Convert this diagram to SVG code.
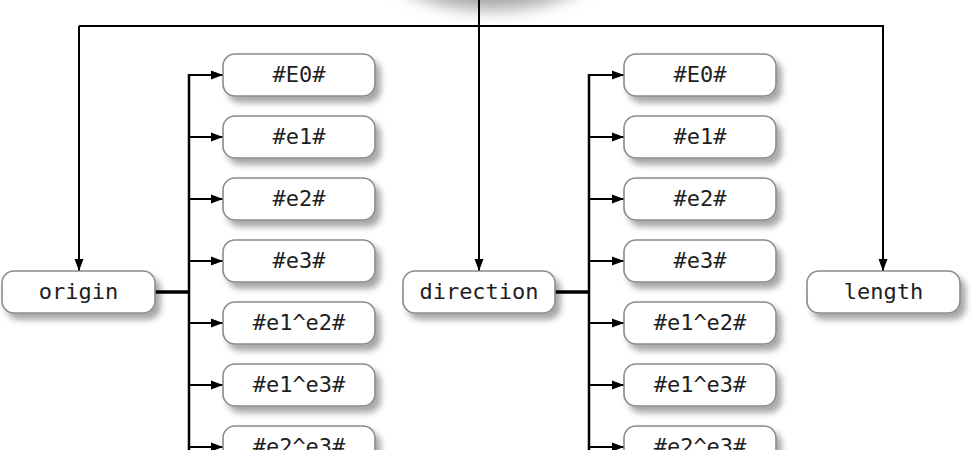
<svg xmlns="http://www.w3.org/2000/svg" width="980" height="450" viewBox="0 0 980 450">
<style>
.box rect{fill:#fff;stroke:#8a8a8a;stroke-width:1.6;filter:url(#sh)}
.box text{font-family:"DejaVu Sans Mono","Liberation Mono",monospace;font-size:22px;fill:#1e1e1e;text-anchor:middle}
.ln{fill:none;stroke:#000;stroke-width:2}
.arr{marker-end:url(#ah)}
.thick{fill:none;stroke:#000;stroke-width:3.5}
</style>
<defs>
<filter id="sh" x="-20%" y="-40%" width="150%" height="200%">
<feGaussianBlur in="SourceAlpha" stdDeviation="3"/>
<feOffset dx="5" dy="6" result="b"/>
<feFlood flood-color="#000" flood-opacity="0.35"/>
<feComposite in2="b" operator="in"/>
<feMerge><feMergeNode/><feMergeNode in="SourceGraphic"/></feMerge>
</filter>
<filter id="blur" x="-50%" y="-50%" width="200%" height="200%">
<feGaussianBlur stdDeviation="8"/>
</filter>
<marker id="ah" markerUnits="userSpaceOnUse" markerWidth="12" markerHeight="10" refX="12" refY="5" orient="auto">
<path d="M0,0.5 L12,5 L0,9.5 z" fill="#000"/>
</marker>
</defs>
<rect width="980" height="450" fill="#fff"/>
<g id="root-shadow">
<ellipse cx="492" cy="-38" rx="106" ry="48" fill="#a8a8a8" filter="url(#blur)"/>
<ellipse cx="486" cy="-46" rx="104" ry="46" fill="#fff"/>
</g>
<g id="connectors">
<path class="ln arr" d="M479,0 V271"/>
<path class="ln arr" d="M79,26 V271"/>
<path class="ln arr" d="M79,26 H883 V271"/>
<path class="thick" d="M155,292 H189"/>
<path class="thick" d="M555,292 H589"/>
<path class="ln" style="stroke-width:2.5" d="M189,74 V450"/>
<path class="ln" style="stroke-width:2.5" d="M589,74 V450"/>
<path class="ln arr" d="M188,75 H223"/>
<path class="ln arr" d="M189,137 H223"/>
<path class="ln arr" d="M189,199 H223"/>
<path class="ln arr" d="M189,261 H223"/>
<path class="ln arr" d="M189,323 H223"/>
<path class="ln arr" d="M189,385 H223"/>
<path class="ln arr" d="M189,447 H223"/>
<path class="ln arr" d="M588,75 H624"/>
<path class="ln arr" d="M589,137 H624"/>
<path class="ln arr" d="M589,199 H624"/>
<path class="ln arr" d="M589,261 H624"/>
<path class="ln arr" d="M589,323 H624"/>
<path class="ln arr" d="M589,385 H624"/>
<path class="ln arr" d="M589,447 H624"/>
</g>
<g id="origin" class="box"><rect x="2" y="271" width="153" height="42" rx="12"/><text x="78.5" y="299">origin</text></g>
<g id="direction" class="box"><rect x="403" y="271" width="152" height="42" rx="12"/><text x="479" y="299">direction</text></g>
<g id="length" class="box"><rect x="807" y="271" width="153" height="42" rx="12"/><text x="883.5" y="299">length</text></g>
<g id="o-E0" class="box"><rect x="223" y="54" width="152" height="42" rx="12"/><text x="299" y="82">#E0#</text></g>
<g id="o-e1" class="box"><rect x="223" y="116" width="152" height="42" rx="12"/><text x="299" y="144">#e1#</text></g>
<g id="o-e2" class="box"><rect x="223" y="178" width="152" height="42" rx="12"/><text x="299" y="206">#e2#</text></g>
<g id="o-e3" class="box"><rect x="223" y="240" width="152" height="42" rx="12"/><text x="299" y="268">#e3#</text></g>
<g id="o-e1e2" class="box"><rect x="223" y="302" width="152" height="42" rx="12"/><text x="299" y="330">#e1^e2#</text></g>
<g id="o-e1e3" class="box"><rect x="223" y="364" width="152" height="42" rx="12"/><text x="299" y="392">#e1^e3#</text></g>
<g id="o-e2e3" class="box"><rect x="223" y="426" width="152" height="42" rx="12"/><text x="299" y="454">#e2^e3#</text></g>
<g id="d-E0" class="box"><rect x="624" y="54" width="152" height="42" rx="12"/><text x="700" y="82">#E0#</text></g>
<g id="d-e1" class="box"><rect x="624" y="116" width="152" height="42" rx="12"/><text x="700" y="144">#e1#</text></g>
<g id="d-e2" class="box"><rect x="624" y="178" width="152" height="42" rx="12"/><text x="700" y="206">#e2#</text></g>
<g id="d-e3" class="box"><rect x="624" y="240" width="152" height="42" rx="12"/><text x="700" y="268">#e3#</text></g>
<g id="d-e1e2" class="box"><rect x="624" y="302" width="152" height="42" rx="12"/><text x="700" y="330">#e1^e2#</text></g>
<g id="d-e1e3" class="box"><rect x="624" y="364" width="152" height="42" rx="12"/><text x="700" y="392">#e1^e3#</text></g>
<g id="d-e2e3" class="box"><rect x="624" y="426" width="152" height="42" rx="12"/><text x="700" y="454">#e2^e3#</text></g>
</svg>
